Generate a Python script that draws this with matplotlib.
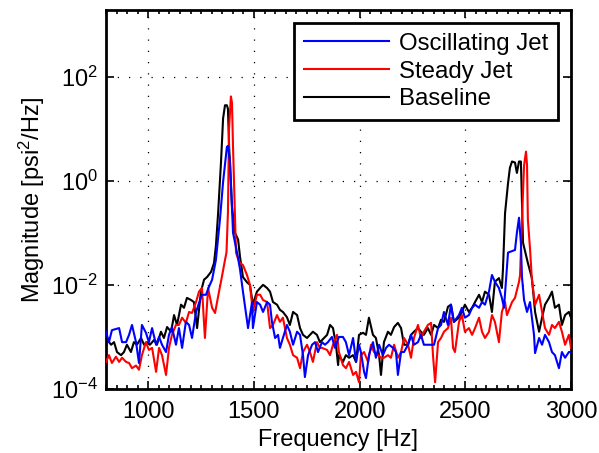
import numpy as np
import matplotlib
matplotlib.use("Agg")
import matplotlib.pyplot as plt
from matplotlib.ticker import MultipleLocator, NullLocator

# (frequency [Hz], log10 magnitude [psi^2/Hz])
osc_points = [
    (800, -2.90), (814, -3.10), (828, -2.87), (862, -2.83), (876, -3.10), (895, -3.10), (909, -2.96),
    (923, -2.77), (942, -3.10), (956, -3.50), (970, -2.77), (989, -2.92), (1003, -3.10), (1018, -2.83),
    (1037, -3.15), (1051, -3.00), (1065, -3.15), (1084, -3.29), (1098, -2.96), (1112, -2.81), (1131, -3.15),
    (1145, -2.83), (1160, -3.21), (1178, -2.71), (1193, -2.77), (1207, -3.02), (1226, -2.52), (1240, -2.35),
    (1254, -2.19), (1273, -2.19), (1287, -2.04), (1302, -1.90), (1320, -1.52), (1339, -0.75), (1354, -0.02),
    (1372, 0.65), (1377, 0.67), (1387, 0.35), (1396, -0.50), (1401, -1.00), (1420, -1.38), (1434, -1.70),
    (1448, -2.13), (1472, -2.83), (1491, -2.33), (1495, -2.83), (1514, -2.33), (1529, -2.38), (1543, -2.52),
    (1562, -2.33), (1576, -2.38), (1585, -2.71), (1600, -3.02), (1614, -2.96), (1623, -3.21), (1637, -3.02),
    (1656, -2.77), (1670, -2.90), (1685, -3.15), (1704, -2.90), (1718, -2.96), (1732, -3.35), (1741, -3.77),
    (1756, -3.35), (1775, -3.15), (1789, -3.10), (1803, -3.29), (1822, -3.10), (1836, -3.15), (1850, -3.10),
    (1869, -3.00), (1883, -3.21), (1902, -3.00), (1921, -3.00), (1935, -3.10), (1950, -3.35), (1969, -3.02),
    (1983, -3.48), (1997, -3.15), (2006, -3.29), (2021, -3.67), (2030, -3.79), (2044, -3.35), (2063, -3.10),
    (2077, -3.40), (2092, -3.15), (2110, -3.35), (2125, -3.21), (2139, -3.15), (2158, -3.21), (2172, -3.29),
    (2181, -3.73), (2196, -3.29), (2210, -3.29), (2229, -3.15), (2243, -2.96), (2257, -3.15), (2276, -3.10),
    (2290, -2.96), (2304, -3.15), (2323, -3.15), (2338, -3.15), (2352, -3.15), (2371, -2.83), (2385, -2.77),
    (2399, -2.52), (2418, -2.77), (2432, -2.38), (2446, -2.71), (2470, -2.58), (2484, -2.44), (2498, -2.63),
    (2517, -2.58), (2532, -2.44), (2546, -2.38), (2565, -2.44), (2579, -2.33), (2593, -2.38), (2612, -2.13),
    (2626, -1.81), (2640, -1.94), (2659, -2.06), (2673, -2.25), (2683, -2.44), (2702, -1.38), (2721, -1.35),
    (2735, -1.33), (2744, -1.00), (2754, -0.71), (2763, -1.20), (2768, -1.85), (2778, -2.29), (2792, -2.52),
    (2806, -2.33), (2825, -2.96), (2830, -3.31), (2849, -3.02), (2863, -3.15), (2877, -2.96), (2896, -3.10),
    (2910, -3.29), (2924, -3.35), (2943, -3.60), (2957, -3.29), (2972, -3.40), (2990, -3.29), (3000, -3.29),
]

steady_points = [
    (800, -3.48), (814, -3.35), (828, -3.50), (847, -3.38), (862, -3.48), (876, -3.40), (895, -3.48),
    (909, -3.50), (923, -3.60), (942, -3.55), (956, -3.63), (970, -3.35), (989, -3.10), (1003, -3.25),
    (1018, -3.21), (1037, -3.67), (1051, -3.21), (1065, -3.35), (1084, -3.73), (1098, -3.21), (1112, -2.96),
    (1131, -2.77), (1145, -2.77), (1160, -2.63), (1178, -2.73), (1193, -2.52), (1207, -2.54), (1226, -2.33),
    (1240, -2.13), (1254, -2.06), (1268, -3.02), (1283, -2.06), (1302, -2.44), (1316, -2.54), (1330, -2.23),
    (1349, -1.83), (1363, -1.52), (1370, -1.38), (1377, -0.60), (1382, 0.98), (1391, 1.62), (1396, 1.50),
    (1401, 0.65), (1410, -0.62), (1415, -1.38), (1425, -1.50), (1434, -1.58), (1448, -1.62), (1467, -1.81),
    (1481, -2.00), (1491, -2.38), (1495, -2.52), (1514, -2.19), (1529, -2.19), (1543, -2.29), (1562, -2.33),
    (1576, -2.83), (1590, -2.77), (1609, -2.58), (1623, -2.71), (1637, -2.63), (1656, -3.02), (1670, -3.15),
    (1685, -3.35), (1704, -3.40), (1718, -3.60), (1732, -3.29), (1751, -3.15), (1765, -3.29), (1779, -3.48),
    (1798, -3.10), (1812, -3.21), (1822, -3.21), (1846, -3.25), (1860, -3.35), (1874, -3.15), (1893, -2.96),
    (1902, -3.29), (1921, -3.54), (1935, -3.60), (1950, -3.48), (1969, -3.73), (1983, -3.67), (1997, -3.87),
    (2006, -3.35), (2021, -3.29), (2040, -3.48), (2054, -3.15), (2068, -3.29), (2087, -3.35), (2101, -3.40),
    (2115, -3.40), (2134, -3.35), (2148, -3.40), (2163, -3.15), (2181, -3.40), (2196, -3.29), (2210, -3.02),
    (2229, -3.15), (2243, -3.40), (2257, -3.02), (2276, -2.77), (2290, -3.02), (2304, -2.90), (2323, -2.77),
    (2338, -2.73), (2347, -3.35), (2357, -3.87), (2371, -3.10), (2385, -3.02), (2399, -2.90), (2418, -2.83),
    (2432, -2.63), (2442, -3.21), (2451, -3.29), (2470, -2.71), (2484, -2.58), (2498, -2.90), (2517, -2.83),
    (2532, -2.96), (2546, -2.83), (2565, -2.63), (2579, -2.90), (2593, -3.02), (2612, -2.90), (2626, -2.58),
    (2640, -2.71), (2659, -3.10), (2673, -2.52), (2688, -2.33), (2697, -2.58), (2721, -2.33), (2735, -2.25),
    (2754, -1.94), (2759, -1.81), (2768, -0.75), (2778, 0.30), (2787, 0.56), (2792, 0.30), (2796, -0.75),
    (2806, -1.30), (2815, -1.90), (2830, -2.38), (2849, -2.19), (2863, -2.52), (2877, -2.83), (2896, -2.96),
    (2910, -2.77), (2924, -2.83), (2943, -2.71), (2957, -2.90), (2972, -3.15), (2990, -2.96), (3000, -3.21),
]

base_points = [
    (800, -3.02), (824, -3.15), (838, -3.10), (852, -3.29), (871, -3.35), (885, -3.29), (899, -3.15),
    (918, -3.29), (932, -3.10), (946, -3.15), (966, -3.02), (980, -3.15), (994, -3.10), (1008, -3.15),
    (1027, -3.06), (1041, -3.15), (1060, -2.90), (1074, -3.02), (1089, -2.81), (1108, -2.90), (1122, -2.58),
    (1136, -2.77), (1155, -2.38), (1169, -2.44), (1183, -2.25), (1202, -2.29), (1216, -2.33), (1231, -2.83),
    (1249, -2.13), (1264, -1.90), (1278, -1.85), (1297, -1.75), (1311, -1.58), (1320, -1.25), (1330, -0.65),
    (1344, 0.35), (1354, 1.20), (1363, 1.45), (1372, 1.45), (1377, 1.38), (1382, 0.70), (1396, -0.50),
    (1410, -1.00), (1425, -1.13), (1434, -1.46), (1448, -1.85), (1467, -1.95), (1481, -2.00), (1495, -2.38),
    (1514, -2.13), (1529, -2.06), (1543, -2.00), (1562, -2.06), (1576, -2.13), (1590, -2.33), (1609, -2.38),
    (1623, -2.48), (1637, -2.52), (1656, -2.62), (1670, -2.77), (1685, -2.52), (1704, -2.58), (1718, -2.83),
    (1732, -2.96), (1751, -3.02), (1765, -2.96), (1779, -2.90), (1798, -2.96), (1812, -3.10), (1822, -3.06),
    (1846, -2.96), (1860, -2.77), (1874, -2.83), (1888, -3.15), (1898, -3.54), (1902, -3.35), (1921, -3.48),
    (1935, -3.35), (1950, -3.40), (1969, -3.35), (1983, -3.48), (1997, -2.96), (2016, -2.92), (2030, -2.96),
    (2044, -2.63), (2063, -2.96), (2077, -3.02), (2092, -3.35), (2101, -3.73), (2115, -3.10), (2134, -2.90),
    (2148, -2.96), (2163, -2.81), (2181, -2.73), (2196, -2.83), (2210, -3.15), (2229, -3.15), (2243, -2.96),
    (2257, -2.90), (2276, -2.83), (2290, -2.90), (2304, -2.96), (2323, -2.83), (2338, -2.96), (2352, -2.77),
    (2371, -2.83), (2385, -2.67), (2399, -2.71), (2418, -2.42), (2432, -2.38), (2446, -2.71), (2470, -2.63),
    (2484, -2.52), (2498, -2.38), (2517, -2.52), (2532, -2.44), (2546, -2.33), (2565, -2.19), (2579, -2.33),
    (2593, -2.13), (2612, -2.19), (2626, -2.52), (2640, -1.94), (2659, -1.87), (2673, -2.06), (2678, -1.71),
    (2688, -0.62), (2702, -0.05), (2711, 0.25), (2721, 0.37), (2735, 0.35), (2744, 0.15), (2754, 0.37),
    (2763, 0.37), (2773, -1.19), (2796, -1.58), (2815, -1.87), (2830, -2.52), (2849, -2.90), (2863, -2.63),
    (2877, -2.38), (2896, -2.25), (2910, -2.13), (2924, -2.44), (2943, -2.38), (2957, -2.77), (2972, -2.58),
    (2990, -2.52), (3000, -2.63),
]

labels = ["Oscillating Jet", "Steady Jet", "Baseline"]
colors = ["blue", "red", "black"]

plt.rcParams['font.family'] = ['Liberation Sans', 'DejaVu Sans']
plt.rcParams['mathtext.default'] = 'regular'
fs = 17

fig = plt.figure(figsize=(5.99, 4.53), dpi=100)
ax = fig.add_axes([106/599, 1 - 389/453, (571 - 106)/599, (389 - 10)/453])

zorders = [4, 3, 2]
for pts, c, lab, z in zip([osc_points, steady_points, base_points], colors, labels, zorders):
    f, m = zip(*pts)
    ax.plot(f, 10 ** np.array(m), color=c, lw=1.5, label=lab, zorder=z)

ax.set_yscale('log')
ax.set_xlim(800, 3000)
ax.set_ylim(1e-4, 10 ** 3.28)
ax.set_yticks([1e-4, 1e-2, 1, 1e2])
ax.yaxis.set_minor_locator(NullLocator())
ax.set_xticks([1000, 1500, 2000, 2500, 3000])
ax.xaxis.set_minor_locator(MultipleLocator(50))

ax.tick_params(which='both', direction='in', top=True, right=True, labelsize=fs, width=1.2)
ax.tick_params(axis='x', pad=9)
ax.tick_params(axis='y', pad=6)
ax.tick_params(which='major', length=6)
ax.tick_params(which='minor', length=3)
for s in ax.spines.values():
    s.set_linewidth(2)

ax.grid(True, which='major', color='black', linestyle=(0, (1, 8)), linewidth=0.9)

ax.set_xlabel("Frequency [Hz]", fontsize=fs, labelpad=4)
ax.set_ylabel("Magnitude [psi$^2$/Hz]", fontsize=fs, labelpad=3)

leg = ax.legend(loc='upper right', fontsize=17.3, fancybox=False, edgecolor='black', framealpha=1,
                borderaxespad=0.55, handlelength=3.55, labelspacing=0.24, handletextpad=0.4, borderpad=0.4)
leg.get_frame().set_linewidth(2)

fig.savefig("out.png", dpi=100)
